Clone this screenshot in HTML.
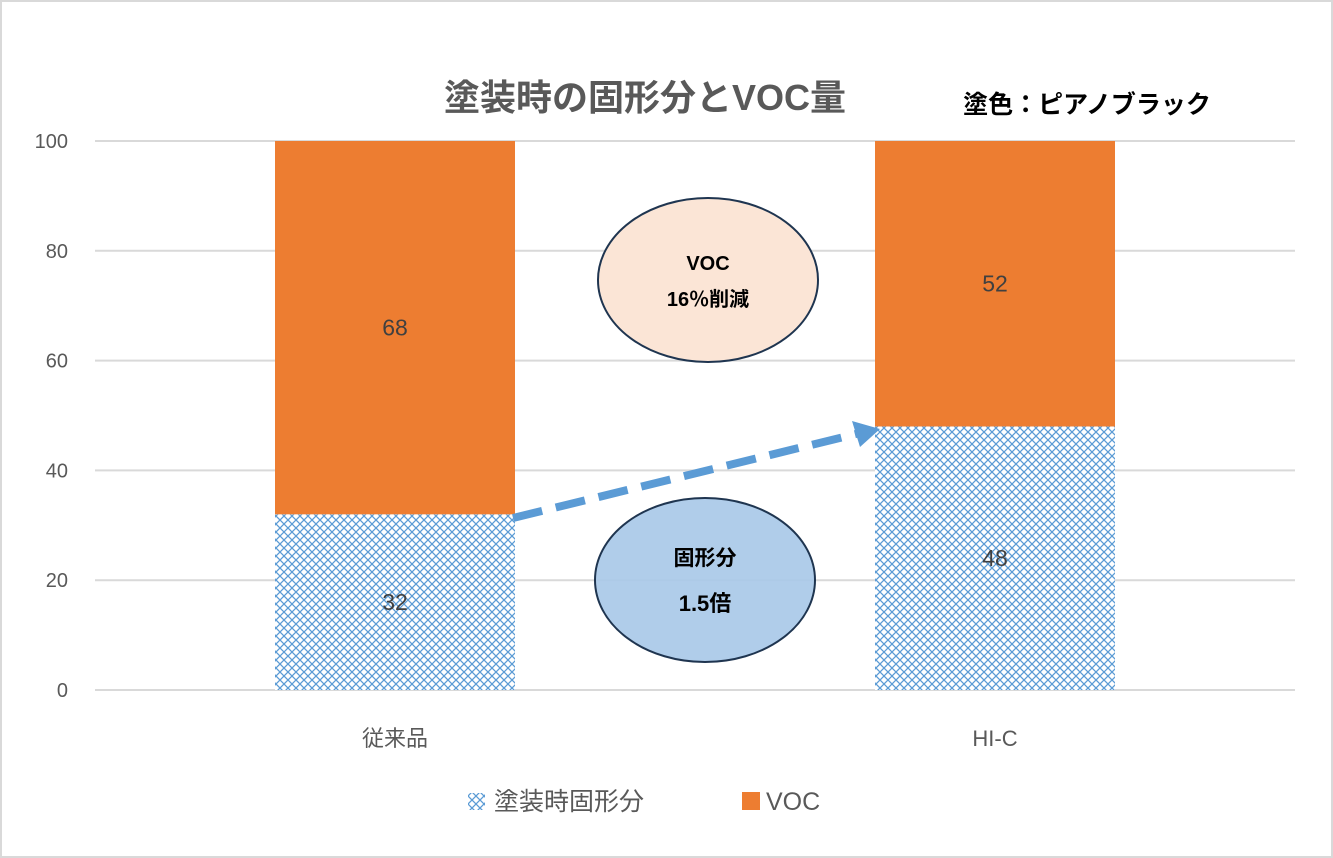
<!DOCTYPE html>
<html><head><meta charset="utf-8"><style>
html,body{margin:0;padding:0;background:#fff}
svg{display:block}
text{font-family:"Liberation Sans","Noto Sans CJK JP",sans-serif}
</style></head><body>
<svg id="chart" width="1333" height="858" viewBox="0 0 1333 858">
<defs>
<pattern id="hatch" width="8" height="8" patternUnits="userSpaceOnUse">
<rect width="8" height="8" fill="#fff"/>
<path d="M0,0 L8,8 M8,0 L0,8" stroke="#5b9bd5" stroke-width="1.3"/>
</pattern>
<marker id="ah" markerWidth="6" markerHeight="6" refX="3" refY="3" orient="auto" markerUnits="strokeWidth">
<path d="M0,0 L6,3 L0,6 z" fill="#5b9bd5"/>
</marker>
</defs>
<rect x="1" y="1" width="1331" height="856" fill="#fff" stroke="#d9d9d9" stroke-width="2"/>
<text x="645" y="110" text-anchor="middle" font-size="36" font-weight="bold" fill="#595959">塗装時の固形分とVOC量</text>
<text x="1087" y="113" text-anchor="middle" font-size="25" font-weight="bold" fill="#000">塗色：ピアノブラック</text>
<g id="grid"></g>
<g id="bars"></g>
<g id="xlabels"></g>
<line x1="513" y1="518" x2="860" y2="433" stroke="#5b9bd5" stroke-width="8" stroke-dasharray="30,14"/>
<path d="M852,421 L880,429 L860,447 z" fill="#5b9bd5"/>
<g>
<ellipse cx="708" cy="280" rx="110" ry="82" fill="#fbe5d6" stroke="#1f3550" stroke-width="2"/>
<text x="708" y="270" text-anchor="middle" font-size="20" font-weight="bold" fill="#000">VOC</text>
<text x="708" y="306" text-anchor="middle" font-size="20" font-weight="bold" fill="#000">16％削減</text>
</g>
<g>
<ellipse cx="705" cy="580" rx="110" ry="82" fill="#a9c9e8" fill-opacity="0.92" stroke="#1f3550" stroke-width="2"/>
<text x="705" y="565" text-anchor="middle" font-size="21" font-weight="bold" fill="#000">固形分</text>
<text x="705" y="611" text-anchor="middle" font-size="22" font-weight="bold" fill="#000">1.5倍</text>
</g>
<g>
<rect x="468" y="793" width="17" height="17" fill="url(#hatch)"/>
<text x="494" y="810" font-size="25" fill="#595959">塗装時固形分</text>
<rect x="742" y="792" width="18" height="18" fill="#ed7d31"/>
<text x="766" y="810" font-size="25" fill="#595959">VOC</text>
</g>
</svg>
<script>
const categories = ["従来品", "HI-C"];
const solids = [32, 48];
const voc = [68, 52];
const yTicks = [0, 20, 40, 60, 80, 100];
const NS = "http://www.w3.org/2000/svg";
const y0 = 690, yTop = 141, plotL = 95, plotR = 1295;
function yScale(v){ return y0 - (v/100)*(y0-yTop); }
const band = (plotR-plotL)/categories.length;
function xCenter(i){ return plotL + band*(i+0.5); }
const barW = 240;
function mk(tag, attrs, parent){ const e=document.createElementNS(NS,tag); for(const k in attrs) e.setAttribute(k,attrs[k]); parent.appendChild(e); return e; }
const grid=document.getElementById('grid');
yTicks.forEach(t=>{
  const l=mk('line',{x1:plotL,x2:plotR,y1:yScale(t),y2:yScale(t),stroke:'#d9d9d9','stroke-width':2},grid);
  
  
  const tx=mk('text',{x:68,y:yScale(t)+7,'text-anchor':'end','font-size':20,fill:'#595959'},grid);
  tx.textContent=t;
  
  
});
const bars=document.getElementById('bars');
const xl=document.getElementById('xlabels');
categories.forEach((c,i)=>{
  const x=xCenter(i)-barW/2;
  const r1=mk('rect',{x:x,y:yScale(solids[i]),width:barW,height:y0-yScale(solids[i]),fill:'url(#hatch)'},bars);
  
  
  const top=solids[i]+voc[i];
  const r2=mk('rect',{x:x,y:yScale(top),width:barW,height:yScale(solids[i])-yScale(top),fill:'#ed7d31'},bars);
  
  
  const t1=mk('text',{x:xCenter(i),y:yScale(solids[i]/2)+8,'text-anchor':'middle','font-size':23,fill:'#404040'},bars);
  t1.textContent=solids[i];
  
  
  const t2=mk('text',{x:xCenter(i),y:yScale(solids[i]+voc[i]/2)+8,'text-anchor':'middle','font-size':23,fill:'#404040'},bars);
  t2.textContent=voc[i];
  
  
  const cl=mk('text',{x:xCenter(i),y:746,'text-anchor':'middle','font-size':22,fill:'#595959'},xl);
  cl.textContent=c;
  
  
});
</script>
</body></html>
